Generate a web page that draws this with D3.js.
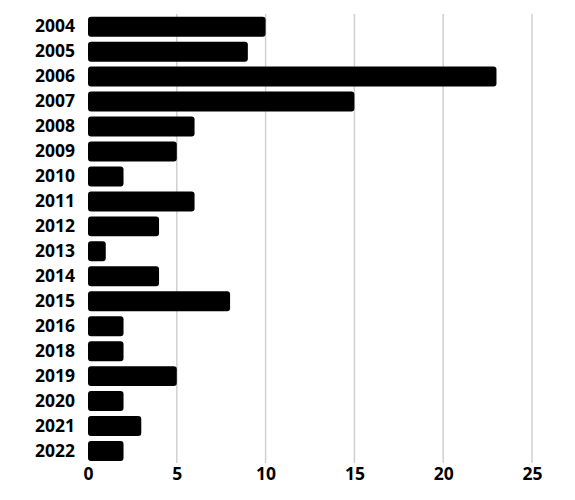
<!DOCTYPE html>
<html><head><meta charset="utf-8">
<script src="https://cdn.jsdelivr.net/npm/d3@7"></script>
<style>body{margin:0;background:#fff;font-family:"Open Sans",sans-serif;}</style>
</head><body>
<svg id="c" width="575" height="500"></svg>
<script>
const years = ["2004","2005","2006","2007","2008","2009","2010","2011","2012","2013","2014","2015","2016","2018","2019","2020","2021","2022"];
const counts = [10,9,23,15,6,5,2,6,4,1,4,8,2,2,5,2,3,2];
const xTicks = [0,5,10,15,20,25];

const svg = d3.select("#c");
const x = d3.scaleLinear().domain([0,25]).range([88,532]);
const y = d3.scaleBand().domain(years).range([14.2,463.5]).paddingInner(0.2).paddingOuter(0.1);

// grid
svg.append("g").selectAll("line").data(xTicks.slice(1)).join("line")
  .attr("x1",d=>x(d)).attr("x2",d=>x(d)).attr("y1",14).attr("y2",463)
  .attr("stroke","#d0d0d0").attr("stroke-width",1.5);

// bars
svg.append("g").selectAll("rect").data(years).join("rect")
  .attr("x",x(0)).attr("y",d=>y(d))
  .attr("width",(d,i)=>x(counts[i])-x(0)).attr("height",y.bandwidth())
  .attr("rx",3).attr("fill","#000");

// y axis
const ya = svg.append("g").attr("transform","translate(88,0)")
  .call(d3.axisLeft(y).tickSize(0).tickPadding(13));
ya.select(".domain").remove();
ya.selectAll("text").attr("font-family","Open Sans").attr("font-weight","bold").attr("font-size",17.5).attr("fill","#000");

// x axis
const xa = svg.append("g").attr("transform","translate(0,464)")
  .call(d3.axisBottom(x).tickValues(xTicks).tickSize(0).tickPadding(4));
xa.select(".domain").remove();
xa.selectAll("text").attr("font-family","Open Sans").attr("font-weight","bold").attr("font-size",17.5).attr("fill","#000");
</script>
</body></html>
